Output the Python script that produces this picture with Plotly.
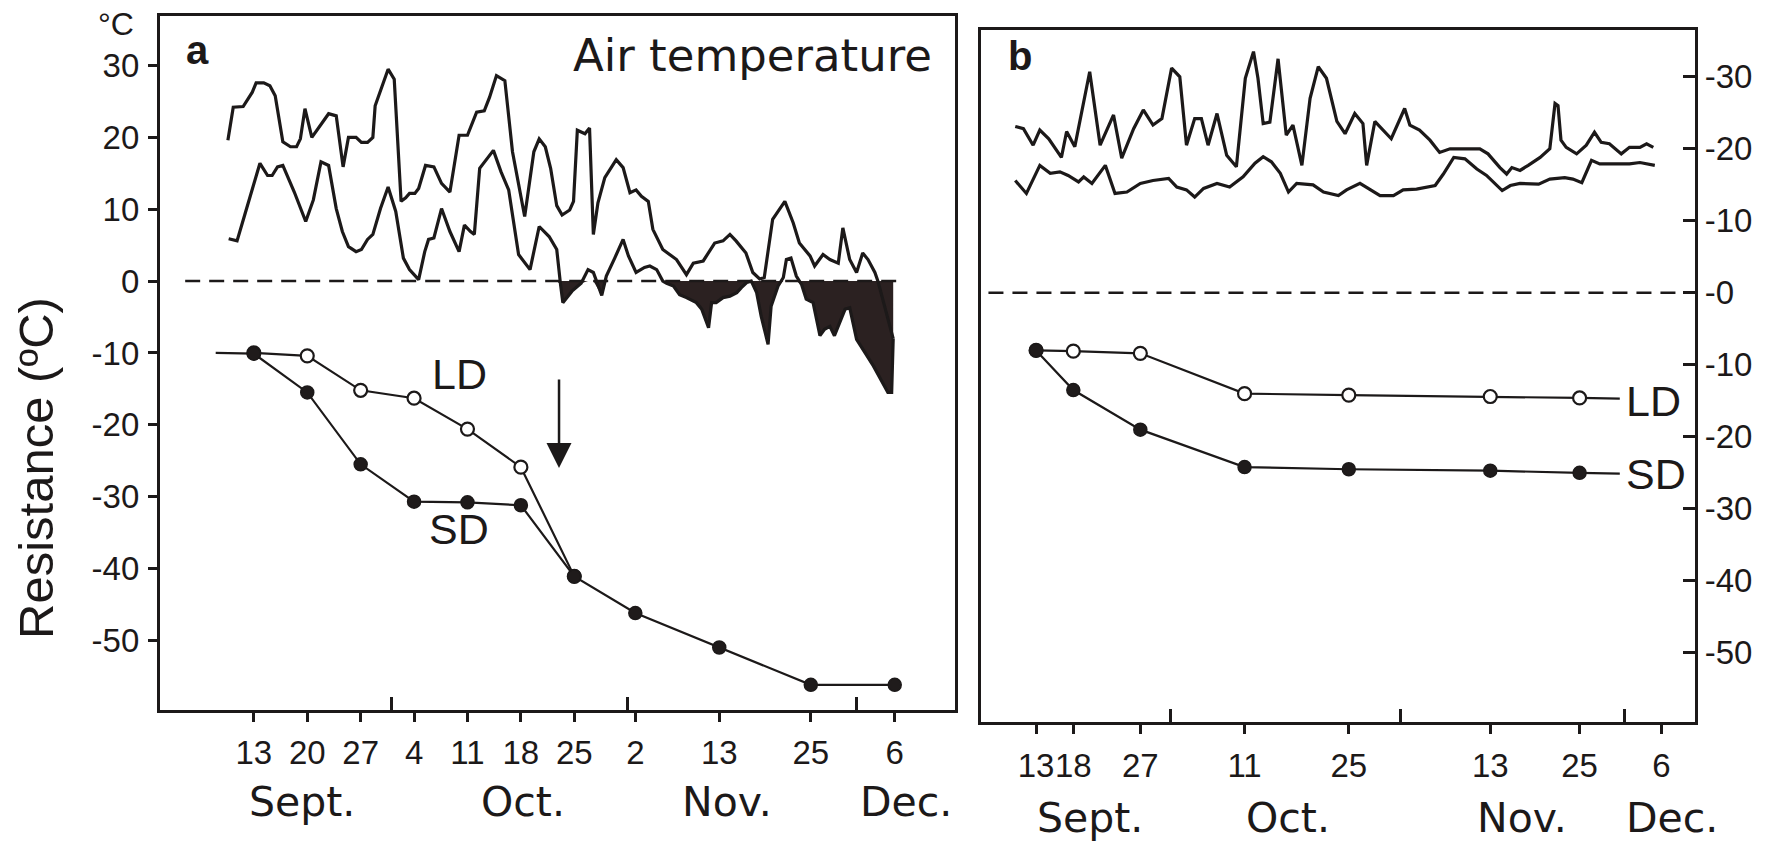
import plotly.graph_objects as go

W, H = 1777, 845

# ---------------- data (x = days counted from 1 September) ----------------
# Panel a: daily air temperature, maximum and minimum (°C)
a_max_day = [8.6, 9.3, 10.6, 11.8, 12.3, 13.3, 14.1, 14.8, 15.8, 16.8, 17.6, 18.1, 18.7, 19.6, 21.8, 22.8,
             23.7, 24.4, 25.4, 26.1, 26.9, 27.6, 27.9, 28.9, 29.6, 30.4, 31.3, 31.9, 32.4, 33.1, 33.6, 34.5,
             35.6, 36.6, 37.7, 38.9, 40.0, 41.2, 42.2, 42.9, 43.8, 44.9, 45.9, 47.5, 48.7, 49.4, 50.2, 50.9,
             51.7, 52.4, 53.4, 53.9, 54.4, 55.4, 56.0, 56.5, 57.1, 58.0, 59.5, 60.4, 61.3, 62.1, 62.8, 63.7,
             64.3, 65.6, 66.5, 67.4, 68.7, 69.6, 70.9, 71.8, 72.4, 73.5, 74.4, 75.2, 76.5, 77.4, 78.3, 78.9,
             80.0, 81.6, 82.7, 83.5, 84.9, 85.5, 86.6, 87.5, 88.6, 89.2, 90.1, 91.0, 91.8, 92.5, 93.4, 93.8,
             95.8]
a_max_val = [19.6, 24.2, 24.3, 26.3, 27.6, 27.6, 27.2, 25.8, 19.4, 18.7, 18.7, 19.8, 24.0, 20.0, 23.3, 23.0,
             15.9, 20.0, 20.0, 19.3, 19.3, 20.0, 24.4, 27.6, 29.5, 28.1, 11.1, 11.6, 12.2, 12.2, 12.9, 16.1,
             15.9, 13.6, 12.4, 20.3, 20.3, 23.5, 23.7, 25.6, 28.6, 27.9, 18.0, 9.0, 18.0, 19.8, 18.7, 15.7,
             10.5, 9.2, 9.9, 11.1, 21.0, 20.5, 21.3, 6.5, 10.9, 14.4, 16.9, 15.8, 12.3, 12.7, 11.8, 11.1,
             7.2, 4.4, 3.7, 3.0, 0.9, 2.5, 2.8, 4.4, 5.3, 5.6, 6.5, 5.6, 3.9, 1.2, 0.3, 0.5,
             8.6, 11.1, 8.1, 5.3, 3.5, 2.1, 3.7, 3.0, 2.5, 7.4, 3.0, 1.2, 3.9, 3.0, 1.2, 0.0,
             -8.0]
a_min_day = [8.7, 9.8, 10.8, 11.6, 12.8, 13.8, 14.4, 15.1, 15.8, 17.3, 18.8, 19.8, 20.8, 21.8, 22.8, 23.6,
             24.4, 25.4, 26.1, 26.9, 27.6, 28.6, 29.6, 30.6, 31.6, 32.4, 33.6, 34.4, 34.9, 35.6, 36.6, 37.7,
             38.9, 39.6, 40.4, 40.9, 41.6, 43.4, 44.4, 45.4, 46.7, 48.2, 49.4, 50.7, 51.7, 52.2, 52.5, 53.7,
             54.9, 55.8, 56.5, 57.6, 58.2, 59.3, 60.4, 61.1, 62.1, 63.2, 63.9, 64.8, 65.6, 66.1, 67.0, 67.8,
             68.7, 70.0, 70.7, 71.6, 72.0, 72.6, 73.5, 74.4, 75.3, 75.9, 76.6, 77.2, 77.9, 78.5, 79.4, 79.8,
             80.7, 81.4, 81.8, 82.4, 83.1, 83.8, 84.0, 84.4, 85.3, 86.2, 86.8, 87.5, 88.1, 88.8, 89.5, 90.1,
             91.0, 93.2, 95.1, 95.6, 95.8]
a_min_val = [5.9, 5.6, 9.2, 12.2, 16.4, 14.7, 14.7, 15.9, 16.1, 12.4, 8.3, 11.3, 16.6, 16.1, 10.1, 6.9,
             4.8, 4.1, 4.4, 5.8, 6.5, 10.1, 13.1, 9.7, 3.2, 1.6, 0.2, 4.1, 5.8, 6.0, 10.1, 6.9,
             4.1, 7.8, 6.9, 6.5, 15.7, 18.2, 15.2, 12.7, 3.7, 1.6, 7.6, 6.2, 4.4, -0.5, -3.0, -1.4,
             -0.3, 1.6, 1.2, -2.0, 0.7, 3.2, 5.8, 3.5, 1.2, 1.9, 2.1, 1.6, 0.0, -0.3, -0.7, -1.9,
             -2.3, -3.0, -3.9, -6.5, -3.0, -3.0, -2.3, -2.1, -1.6, -0.9, -0.2, 0.0, -1.6, -4.9, -8.8, -3.5,
             -0.7, 0.5, 3.0, 3.2, 0.7, -0.5, -1.2, -2.5, -3.0, -7.6, -6.7, -6.3, -7.6, -5.8, -3.9, -3.7,
             -8.1, -11.8, -15.5, -15.5, -8.0]

# Panel a: frost resistance (°C) under long days (LD) and short days (SD)
a_ld_day = [12, 19, 26, 33, 40, 47, 54]
a_ld_val = [-10.0, -10.4, -15.2, -16.3, -20.6, -25.9, -41.1]
a_sd_day = [7, 12, 19, 26, 33, 40, 47, 54, 62, 73, 85, 96]
a_sd_val = [-10.0, -10.1, -15.5, -25.5, -30.7, -30.8, -31.2, -41.1, -46.2, -51.0, -56.2, -56.2]

# Panel b: daily air temperature, maximum and minimum (°C)
b_max_day = [9.2, 10.3, 11.6, 12.5, 13.7, 15.4, 16.1, 17.2, 19.2, 20.6, 22.4, 23.5, 25.1, 26.4, 27.7, 28.9,
             30.2, 31.3, 32.2, 33.3, 34.2, 35.1, 36.3, 37.6, 38.9, 40.1, 41.2, 41.8, 42.5, 43.4, 44.5, 45.6,
             46.5, 47.7, 48.8, 49.9, 51.0, 52.4, 53.5, 54.8, 55.9, 56.4, 57.5, 59.7, 61.5, 62.2, 63.5, 64.9,
             66.2, 67.6, 71.6, 72.7, 74.3, 75.2, 75.9, 77.0, 78.1, 79.7, 81.0, 81.7, 82.1, 82.5, 83.2, 84.6,
             85.9, 87.0, 87.9, 89.0, 90.6, 91.7, 93.1, 94.0, 94.9]
b_max_val = [23.1, 22.8, 20.5, 22.6, 21.4, 18.8, 22.4, 20.3, 30.7, 20.5, 24.7, 18.7, 22.8, 25.4, 23.3, 24.2,
             31.2, 30.0, 20.5, 24.2, 24.2, 20.5, 24.9, 19.1, 17.5, 29.8, 33.5, 29.8, 23.5, 23.7, 32.5, 21.9,
             23.3, 17.7, 27.0, 31.4, 29.8, 23.8, 22.1, 24.9, 23.5, 17.7, 23.8, 21.4, 25.6, 23.3, 22.6, 21.2,
             19.5, 20.0, 20.0, 19.3, 17.4, 16.5, 17.4, 17.0, 17.7, 18.8, 20.0, 26.3, 26.0, 21.2, 20.2, 19.3,
             20.5, 22.3, 20.9, 20.7, 19.3, 20.2, 20.2, 20.7, 20.2]
b_min_day = [9.2, 10.7, 12.5, 13.9, 15.2, 16.3, 17.7, 18.4, 19.5, 21.3, 22.6, 24.2, 26.0, 27.7, 29.8, 30.9,
             32.2, 33.3, 34.5, 36.3, 38.0, 39.8, 41.4, 42.5, 43.6, 44.8, 45.9, 47.0, 49.2, 50.6, 52.6, 53.7,
             55.5, 56.6, 58.2, 60.0, 61.3, 63.1, 64.4, 65.6, 66.7, 68.1, 69.6, 71.2, 72.5, 74.6, 75.7, 77.0,
             79.5, 81.0, 83.0, 84.1, 85.3, 86.6, 87.7, 89.0, 91.7, 93.1, 94.2, 95.1]
b_min_val = [15.6, 13.8, 17.7, 16.6, 16.8, 16.3, 15.4, 16.1, 15.2, 17.7, 13.8, 14.0, 15.2, 15.6, 15.9, 14.7,
             14.3, 13.3, 14.5, 15.2, 14.7, 16.1, 18.0, 18.9, 18.2, 16.6, 14.0, 15.2, 15.0, 14.0, 13.5, 14.3,
             15.2, 14.5, 13.5, 13.5, 14.3, 14.4, 14.7, 14.9, 16.5, 18.8, 18.6, 17.2, 16.3, 14.2, 14.9, 15.2,
             15.1, 15.8, 16.0, 15.8, 15.3, 18.4, 17.9, 17.9, 17.9, 18.1, 17.9, 17.7]

# Panel b: frost resistance (°C), LD and SD (last entry: line run-out to the label)
b_ld_day = [12, 17, 26, 40, 54, 73, 85, 90.4]
b_ld_val = [-8.0, -8.1, -8.4, -14.0, -14.2, -14.4, -14.6, -14.7]
b_sd_day = [12, 17, 26, 40, 54, 73, 85, 90.4]
b_sd_val = [-8.0, -13.5, -19.0, -24.2, -24.5, -24.7, -25.0, -25.1]

# Axis ticks
a_tick_days = [12, 19, 26, 33, 40, 47, 54, 62, 73, 85, 96]
a_tick_text = ["13", "20", "27", "4", "11", "18", "25", "2", "13", "25", "6"]
b_tick_days = [12, 17, 26, 40, 54, 73, 85, 96]
b_tick_text = ["13", "18", "27", "11", "25", "13", "25", "6"]
month_starts = [30, 61, 91]
month_names = ["Sept.", "Oct.", "Nov.", "Dec."]
y_vals = [30, 20, 10, 0, -10, -20, -30, -40, -50]
a_y_text = ["30", "20", "10", "0", "-10", "-20", "-30", "-40", "-50"]
b_y_text = ["-30", "-20", "-10", "-0", "-10", "-20", "-30", "-40", "-50"]

# ---------------- styling ----------------
INK = "#1c1919"
FILL = "#2b2121"
DOT = "#1f1b1b"
SANS = "Liberation Sans, Arial, sans-serif"
NUM_FONT = dict(family=SANS, size=33, color=INK)
WIDE_FONT = "DejaVu Sans, Verdana, sans-serif"


def px(x, y):
    """pixel position -> paper coordinates"""
    return x / W, 1 - y / H


fig = go.Figure()

# ---- panel a: temperature (frost periods shaded below 0 °C) ----
fig.add_trace(go.Scatter(x=a_min_day, y=[min(v, 0) for v in a_min_val], mode="lines",
                         line=dict(width=0, color=FILL), fill="tozeroy", fillcolor=FILL,
                         xaxis="x", yaxis="y", hoverinfo="skip"))
fig.add_trace(go.Scatter(x=a_max_day, y=a_max_val, mode="lines", line=dict(width=3.2, color=INK),
                         xaxis="x", yaxis="y"))
fig.add_trace(go.Scatter(x=a_min_day, y=a_min_val, mode="lines", line=dict(width=3.2, color=INK),
                         xaxis="x", yaxis="y"))

# ---- panel a: resistance ----
fig.add_trace(go.Scatter(x=a_ld_day, y=a_ld_val, mode="lines+markers",
                         line=dict(width=2.2, color=INK),
                         marker=dict(size=13, color="white", opacity=1, line=dict(width=2.2, color=INK)),
                         xaxis="x", yaxis="y"))
fig.add_trace(go.Scatter(x=a_sd_day, y=a_sd_val, mode="lines+markers",
                         line=dict(width=2.2, color=INK),
                         marker=dict(size=[0] + [13] * (len(a_sd_day) - 1), color=DOT, opacity=1,
                                     line=dict(width=1.5, color=INK)),
                         xaxis="x", yaxis="y"))

# ---- panel b: temperature ----
fig.add_trace(go.Scatter(x=b_max_day, y=b_max_val, mode="lines", line=dict(width=3.2, color=INK),
                         xaxis="x2", yaxis="y2"))
fig.add_trace(go.Scatter(x=b_min_day, y=b_min_val, mode="lines", line=dict(width=3.2, color=INK),
                         xaxis="x2", yaxis="y2"))

# ---- panel b: resistance ----
fig.add_trace(go.Scatter(x=b_ld_day, y=b_ld_val, mode="lines+markers",
                         line=dict(width=2.2, color=INK),
                         marker=dict(size=[13] * (len(b_ld_day) - 1) + [0], color="white", opacity=1,
                                     line=dict(width=2.2, color=INK)),
                         xaxis="x2", yaxis="y2"))
fig.add_trace(go.Scatter(x=b_sd_day, y=b_sd_val, mode="lines+markers",
                         line=dict(width=2.2, color=INK),
                         marker=dict(size=[13] * (len(b_sd_day) - 1) + [0], color=DOT, opacity=1,
                                     line=dict(width=1.5, color=INK)),
                         xaxis="x2", yaxis="y2"))

# zero reference lines (dashed)
shapes = [
    dict(type="line", xref="x", yref="y", x0=3, x1=97.3, y0=0, y1=0,
         line=dict(color=INK, width=2.5, dash="15px,9px")),
    dict(type="line", xref="x2", yref="y2", x0=5.6, x1=100.5, y0=0, y1=0,
         line=dict(color=INK, width=2.5, dash="15px,9px")),
]

axis_common = dict(showgrid=False, zeroline=False, showline=True, linewidth=3.2, linecolor=INK,
                   mirror=True, tickcolor=INK, tickwidth=2.5, tickfont=NUM_FONT)
minor_months = dict(tickmode="array", tickvals=month_starts, ticks="inside", ticklen=13,
                    tickwidth=2.5, tickcolor=INK)

xa = dict(axis_common, domain=[160 / W, 955 / W], range=[-0.3, 103.9], anchor="y",
          tickmode="array", tickvals=a_tick_days, ticktext=a_tick_text, ticks="outside", ticklen=9,
          tickangle=0, ticklabelstandoff=2, minor=minor_months)
ya = dict(axis_common, domain=[1 - 710 / H, 1 - 16 / H], range=[-59.7, 36.9], anchor="x",
          tickmode="array", tickvals=y_vals, ticktext=a_y_text, ticks="outside", ticklen=9,
          ticklabelstandoff=2)
xb = dict(axis_common, domain=[981 / W, 1695 / W], range=[4.6, 100.5], anchor="y2",
          tickmode="array", tickvals=b_tick_days, ticktext=b_tick_text, ticks="outside", ticklen=9,
          tickangle=0, ticklabelstandoff=3, minor=minor_months)
yb = dict(axis_common, domain=[1 - 722 / H, 1 - 30 / H], range=[-59.6, 36.5], anchor="x2",
          side="right", tickmode="array", tickvals=y_vals, ticktext=b_y_text, ticks="inside",
          ticklen=12, ticklabelstandoff=0)

annotations = []


def note(text, x, y, size, family=SANS, bold=False, angle=0, xanchor="center"):
    xp, yp = px(x, y)
    annotations.append(dict(text=f"<b>{text}</b>" if bold else text, x=xp, y=yp,
                            xref="paper", yref="paper", showarrow=False, textangle=angle,
                            xanchor=xanchor, yanchor="middle",
                            font=dict(family=family, size=size, color=INK)))


note("°C", 116, 24, 32)
note("Resistance (ºC)", 36, 468, 49, angle=-90)
note("a", 197, 50, 40, bold=True)
note("b", 1020, 56, 40, bold=True)
note("Air temperature", 752, 55, 45, family=WIDE_FONT)

for name, xc in zip(month_names, [302, 523, 727, 906]):
    note(name, xc, 802, 41, family=WIDE_FONT)
for name, xc in zip(month_names, [1090, 1288, 1522, 1672]):
    note(name, xc, 818, 41, family=WIDE_FONT)

# series labels placed in data coordinates
for txt, xd, yd, xr, yr, anchor in [("LD", 39, -12.9, "x", "y", "center"),
                                    ("SD", 38.9, -34.5, "x", "y", "center"),
                                    ("LD", 91.0, -15.0, "x2", "y2", "left"),
                                    ("SD", 91.0, -25.2, "x2", "y2", "left")]:
    annotations.append(dict(text=txt, x=xd, y=yd, xref=xr, yref=yr, showarrow=False,
                            xanchor=anchor, yanchor="middle",
                            font=dict(family=SANS, size=43, color=INK)))

# arrow marking the transfer date
annotations.append(dict(x=52, y=-26, ax=52, ay=-13.5, xref="x", yref="y", axref="x", ayref="y",
                        text="", showarrow=True, arrowhead=2, arrowsize=2, arrowwidth=2.5,
                        arrowcolor=INK))

fig.update_layout(
    width=W, height=H, margin=dict(l=0, r=0, t=0, b=0),
    paper_bgcolor="white", plot_bgcolor="white", showlegend=False,
    xaxis=xa, yaxis=ya, xaxis2=xb, yaxis2=yb,
    shapes=shapes, annotations=annotations,
)

fig.write_html("out.html")
